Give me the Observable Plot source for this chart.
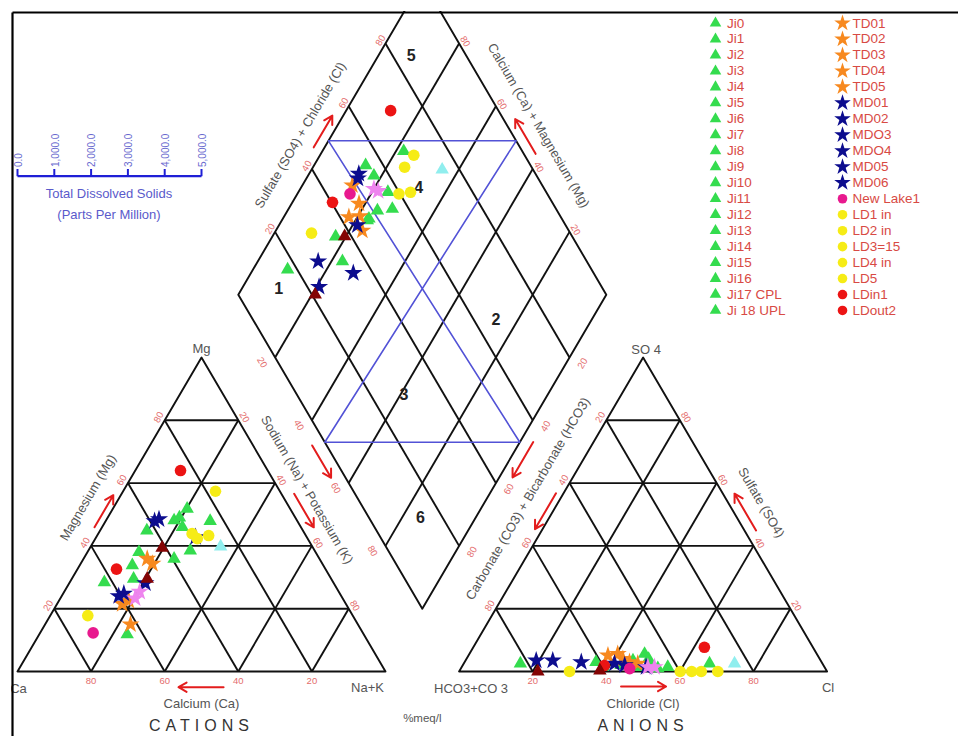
<!DOCTYPE html>
<html>
<head>
<meta charset="utf-8">
<script src="https://cdn.jsdelivr.net/npm/d3@7"></script>
<script src="https://cdn.jsdelivr.net/npm/@observablehq/plot@0.6"></script>
<style>
html,body{margin:0;padding:0;background:#fff;}
#chart svg{display:block;}
</style>
</head>
<body>
<div id="chart"></div>
<script>
// ================= DATA =================
// legend categories
const legendJi = ["Ji0","Ji1","Ji2","Ji3","Ji4","Ji5","Ji6","Ji7","Ji8","Ji9","Ji10","Ji11","Ji12","Ji13","Ji14","Ji15","Ji16","Ji17 CPL","Ji 18 UPL"];
const legendTD = ["TD01","TD02","TD03","TD04","TD05"];
const legendMD = ["MD01","MD02","MDO3","MDO4","MD05","MD06"];
const legendNewLake = ["New Lake1"];
const legendLD = ["LD1 in","LD2 in","LD3=15","LD4 in","LD5"];
const legendLDin = ["LDin1","LDout2"];

// tick labels
const gridTicks = [20,40,60,80];
const tdsTicks = [0,1000,2000,3000,4000,5000];
const tdsLabels = ["0.0","1,000.0","2,000.0","3,000.0","4,000.0","5,000.0"];

// diamond zone labels (Na+K %, SO4+Cl %)
const zoneLabels = ["1","2","3","4","5","6"];
const zoneNaK = [10,74,61,32,9,85];
const zoneSCl = [12,66,29,66,85,14];
// blue facies outline (Na+K %, SO4+Cl %)
const faciesNaK = [0,51,47,100,0];
const faciesSCl = [49,100,0,53,49];

// cation triangle: [Mg %, Na+K %]
const cationJi = [[51.8,20.2],[48.1,18.5],[49.0,19.5],[46.0,21.8],[47.9,28.4],[44.9,12.7],[38.5,27.7],[35.9,24.6],[38.0,14.0],[33.8,14.3],[29.5,16.8],[28.4,9.4],[11.8,23.9]];
const cationTD = [[35.9,17.3],[34.3,19.5],[21.5,17.7],[15.0,23.2],[22.5,19.0]];
const cationMD = [[47.9,13.3],[48.5,14.2],[24.0,15.5],[28.1,20.7],[42.8,27.0],[24.8,16.5]];
const cationNewLake = [[12.3,14.4]];
const cationLD = [[57.4,25.1],[17.8,10.2],[43.9,25.5],[42.3,27.7],[43.3,30.3]];
const cationLDin = [[64.0,12.3],[32.6,10.6]];
const cationViolet = [[23.3,20.3],[25.4,20.5]];
const cationMaroon = [[39.4,19.6],[29.5,20.5]];
const cationCyan = [[39.8,35.3]];

// anion triangle: [SO4 %, Cl %]
const anionJi = [[2.5,15.4],[5.6,47.6],[3.0,35.7],[1.4,56.0],[2.5,66.8],[1.4,48.0],[2.0,43.0],[2.0,51.0],[3.5,45.5],[1.5,38.5],[4.0,49.5],[1.0,53.5]];
const anionTD = [[5.1,37.9],[3.0,44.8],[2.5,47.3],[5.6,40.3],[4.0,42.5]];
const anionMD = [[3.5,19.2],[3.5,23.7],[3.0,31.7],[2.5,41.0],[1.4,50.1],[2.0,44.0]];
const anionNewLake = [[0.9,45.9]];
const anionLD = [[0,30.0],[0,60.1],[0,63.2],[0,65.8],[0,70.3]];
const anionLDin = [[7.7,62.8],[1.9,38.5]];
const anionViolet = [[1.4,52.4],[1.4,50.6]];
const anionMaroon = [[0,21.4],[0.3,38.1]];
const anionCyan = [[2.5,73.6]];

// diamond: [Na+K %, SO4+Cl %]
const diamondJi = [[22.1,67.8],[14.0,55.2],[17.9,55.8],[24.3,57.0],[24.4,51.2],[28.2,55.5],[23.4,47.6],[23.2,46.9],[17.2,35.7],[23.0,33.6],[9.4,17.4]];
const diamondTD = [[13.6,48.4],[18.3,47.3],[17.7,42.4],[23.5,43.9],[20.5,45.5]];
const diamondMD = [[13.5,52.0],[21.3,43.4],[16.4,27.0],[27.8,34.7],[20.7,23.2],[14.0,51.0]];
const diamondNewLake = [[14.3,46.4]];
const diamondLD = [[25.5,69.9],[24.9,65.5],[27.6,59.7],[30.5,63.1],[10.1,29.7]];
const diamondLDin = [[12.1,70.7],[10.9,40.3]];
const diamondViolet = [[20.0,53.7],[21.5,54.5]];
const diamondMaroon = [[19.6,38.2],[20.9,20.9]];
const diamondCyan = [[35.5,75.3]];

// ================= GEOMETRY =================
const KX = 3.68, KY = 3.626, OX = 17, OY = 671; // px per unit, origin
const toX = px => (px - OX) / KX, toY = py => (OY - py) / KY;
const H = 50 * Math.sqrt(3);
const V = {
  Ca:{x:0,y:0}, NaK:{x:100,y:0}, Mg:{x:50,y:H},
  HCO3:{x:120,y:0}, Cl:{x:220,y:0}, SO4:{x:170,y:H},
  B:{x:110,y:0.2*H}, L:{x:60,y:1.2*H}, R:{x:160,y:1.2*H}, T:{x:110,y:2.2*H}
};
const cat = ([mg,nak]) => ({x: nak + mg/2, y: mg/100*H});
const ani = ([so4,cl]) => ({x: 120 + cl + so4/2, y: so4/100*H});
const dia = ([nak,sc]) => ({x: 110 - 50*(1-nak/100) + 50*sc/100, y: 0.2*H + H*(1-nak/100) + H*sc/100});

const edges = {
  catBottom:[V.NaK,V.Ca], catLeft:[V.Ca,V.Mg], catRight:[V.Mg,V.NaK],
  aniBottom:[V.Cl,V.HCO3], aniLeft:[V.HCO3,V.SO4], aniRight:[V.SO4,V.Cl],
  diaUL:[V.L,V.T], diaUR:[V.T,V.R], diaLL:[V.B,V.L], diaLR:[V.R,V.B]
};
const shift = (p,dx,dy) => ({x:p.x + dx/KX, y:p.y - dy/KY});
const onEdge = (e,t) => ({x:e[0].x + t*(e[1].x-e[0].x), y:e[0].y + t*(e[1].y-e[0].y)});
function normal(e){const sx=(e[1].x-e[0].x)*KX, sy=-(e[1].y-e[0].y)*KY, l=Math.hypot(sx,sy); return [sy/l, -sx/l];}
function outside(e,t,off){const p=onEdge(e,t), n=normal(e); return shift(p, n[0]*off, n[1]*off);}

// grid segments
const segs = [];
for (const k of gridTicks) {
  segs.push([cat([k,0]), cat([k,100-k])]);
  segs.push([cat([0,k]), cat([100-k,k])]);
  segs.push([cat([0,100-k]), cat([100-k,0])]);
  segs.push([ani([k,0]), ani([k,100-k])]);
  segs.push([ani([0,k]), ani([100-k,k])]);
  segs.push([ani([0,100-k]), ani([100-k,0])]);
  segs.push([dia([k,0]), dia([k,100])]);
  segs.push([dia([0,k]), dia([100,k])]);
}
const linkData = segs.map(([a,b]) => ({x1:a.x,y1:a.y,x2:b.x,y2:b.y}));
const outlines = [
  ...[V.Ca,V.NaK,V.Mg].map(p=>({...p,id:"c"})),
  ...[V.HCO3,V.Cl,V.SO4].map(p=>({...p,id:"a"})),
  ...[V.L,V.B,V.R,V.T].map(p=>({...p,id:"d"}))
];
const facies = faciesNaK.map((n,i) => dia([n, faciesSCl[i]]));

// tick labels
const tickSpecs = [
  {edge:"catBottom",rev:false,dx:0,dy:9,rot:0},
  {edge:"catLeft",rev:false,dx:-6,dy:-3,rot:-60},
  {edge:"catRight",rev:false,dx:6,dy:-3,rot:60},
  {edge:"aniBottom",rev:true,dx:0,dy:9,rot:0},
  {edge:"aniLeft",rev:true,dx:-6,dy:-3,rot:-60},
  {edge:"aniRight",rev:true,dx:6,dy:-3,rot:60},
  {edge:"diaUL",rev:false,dx:-5,dy:-3,rot:-60},
  {edge:"diaUR",rev:true,dx:6,dy:-2,rot:60},
  {edge:"diaLL",rev:true,dx:-13,dy:5,rot:60},
  {edge:"diaLR",rev:false,dx:13,dy:6,rot:-60}
];
const tickMarks = tickSpecs.map(s => {
  const data = gridTicks.map(k => {
    const t = s.rev ? 1 - k/100 : k/100;
    const p = shift(onEdge(edges[s.edge], t), s.dx, s.dy);
    return {...p, t: String(k)};
  });
  return Plot.text(data, {x:"x", y:"y", text:"t", rotate:s.rot*0.993, fill:"#e46c6c", fontSize:9.5});
});

// axis titles
const titleSpecs = [
  {text:"Magnesium (Mg)", edge:"catLeft", t:0.51, off:27, rot:-59.6},
  {text:"Sodium (Na) + Potassium (K)", edge:"catRight", t:0.46, off:24, rot:59.6},
  {text:"Calcium (Ca)", edge:"catBottom", t:0.5, off:32, rot:0},
  {text:"Carbonate (CO3) + Bicarbonate (HCO3)", edge:"aniLeft", t:0.505, off:28, rot:-59.6},
  {text:"Sulfate (SO4)", edge:"aniRight", t:0.508, off:28.5, rot:59.6},
  {text:"Chloride (Cl)", edge:"aniBottom", t:0.5, off:32, rot:0},
  {text:"Sulfate (SO4) + Chloride (Cl)", edge:"diaUL", t:0.464, off:27, rot:-59.6},
  {text:"Calcium (Ca) + Magnesium (Mg)", edge:"diaUR", t:0.505, off:27, rot:59.6}
];
const titleMarks = titleSpecs.map(s => {
  const p = outside(edges[s.edge], s.t, s.off);
  return Plot.text([{...p, t:s.text}], {x:"x", y:"y", text:"t", rotate:s.rot, fill:"#555", fontSize:13});
});
const bigTitles = [
  {...outside(edges.catBottom,0.5,54), t:"CATIONS"},
  {...outside(edges.aniBottom,0.5,54), t:"ANIONS"}
];

// red arrows
const arrowSpecs = [
  {edge:"catBottom",t0:0.44,t1:0.5625,off:15.7},
  {edge:"catLeft",t0:0.449,t1:0.551,off:6.5},
  {edge:"catRight",t0:0.452,t1:0.5585,off:11},
  {edge:"diaLL",t0:0.54,t1:0.437,off:12.5},
  {edge:"aniBottom",t0:0.56,t1:0.4375,off:15},
  {edge:"aniLeft",t0:0.557,t1:0.443,off:6.5},
  {edge:"diaLR",t0:0.451,t1:0.5635,off:11.5},
  {edge:"aniRight",t0:0.567,t1:0.45,off:10},
  {edge:"diaUL",t0:0.454,t1:0.555,off:9.4},
  {edge:"diaUR",t0:0.568,t1:0.457,off:10.2}
];
const arrowData = arrowSpecs.map(s => {
  const a = outside(edges[s.edge], s.t0, s.off), b = outside(edges[s.edge], s.t1, s.off);
  return {x1:a.x,y1:a.y,x2:b.x,y2:b.y};
});

// corner labels
const cornerData = [
  {...shift(V.Mg,0,-9), t:"Mg", a:"middle"},
  {...shift(V.Ca,1,17), t:"Ca", a:"middle"},
  {...shift(V.NaK,-18,16), t:"Na+K", a:"middle"},
  {...shift(V.Cl,1,16), t:"Cl", a:"middle"},
  {...shift(V.SO4,3,-8), t:"SO 4", a:"middle"}
];
const cornerEnd = [{...shift(V.HCO3,49,17), t:"HCO3+CO 3"}];

// series
const series = [
  {symbol:"triangle", fill:"#34dc4e", r:5,   lr:4.3, c:cationJi, a:anionJi, d:diamondJi, legend:legendJi, col:0, row0:0},
  {symbol:"star",     fill:"#f7891f", r:5.7, lr:5.2, c:cationTD, a:anionTD, d:diamondTD, legend:legendTD, col:1, row0:0},
  {symbol:"star",     fill:"#0c0c8e", r:5.7, lr:5.2, c:cationMD, a:anionMD, d:diamondMD, legend:legendMD, col:1, row0:5},
  {symbol:"circle",   fill:"#e8198e", r:5.8, lr:4.8, c:cationNewLake, a:anionNewLake, d:diamondNewLake, legend:legendNewLake, col:1, row0:11},
  {symbol:"circle",   fill:"#f6ec16", r:5.8, lr:4.8, c:cationLD, a:anionLD, d:diamondLD, legend:legendLD, col:1, row0:12},
  {symbol:"circle",   fill:"#ec1414", r:5.8, lr:4.8, c:cationLDin, a:anionLDin, d:diamondLDin, legend:legendLDin, col:1, row0:17},
  {symbol:"star",     fill:"#ee84ee", r:5.7, lr:5.2, c:cationViolet, a:anionViolet, d:diamondViolet, legend:[], col:1, row0:0},
  {symbol:"triangle", fill:"#840404", r:5,   lr:4.3, c:cationMaroon, a:anionMaroon, d:diamondMaroon, legend:[], col:1, row0:0},
  {symbol:"triangle", fill:"#90eeee", r:5,   lr:4.3, c:cationCyan, a:anionCyan, d:diamondCyan, legend:[], col:1, row0:0}
];
const pointMarks = series.map(s => {
  const pts = [...s.c.map(cat), ...s.a.map(ani), ...s.d.map(dia)];
  return Plot.dot(pts, {x:"x", y:"y", symbol:s.symbol, fill:s.fill, r:s.r});
});

// legend
const legSymX = [toX(715), toX(842)], legTxtX = [toX(726.5), toX(852)];
const rowY = i => toY(22.7 + i*15.96);
const legendMarks = [];
for (const s of series) {
  if (!s.legend.length) continue;
  const rows = s.legend.map((t,i) => ({t, x:legSymX[s.col], tx:legTxtX[s.col], y:rowY(s.row0+i)}));
  legendMarks.push(Plot.dot(rows, {x:"x", y:"y", symbol:s.symbol, fill:s.fill, r:s.lr}));
  legendMarks.push(Plot.text(rows, {x:"tx", y:"y", text:"t", textAnchor:"start", fill:"#d84a44", fontSize:13.5}));
}

// TDS scale
const tdsX = v => v/100;
const tdsY = toY(175.7), tdsTop = toY(168.5), tdsLab = toY(166.5);
const tdsData = tdsTicks.map((v,i) => ({x:tdsX(v), lab:tdsLabels[i]}));

// masks and frame
const W = 958, HT = 736;
const maskData = [
  {x1:toX(0), x2:toX(W), y1:toY(11), y2:toY(0)},
  {x1:toX(0), x2:toX(11), y1:toY(HT), y2:toY(0)}
];
const frameData = [
  {x1:toX(12), y1:toY(12), x2:toX(W), y2:toY(12)},
  {x1:toX(12), y1:toY(12), x2:toX(12), y2:toY(HT)}
];

const zoneData = zoneLabels.map((t,i) => ({...dia([zoneNaK[i], zoneSCl[i]]), t}));

const plot = Plot.plot({
  width: W, height: HT,
  marginTop:0, marginRight:0, marginBottom:0, marginLeft:0,
  style: {fontFamily:"Liberation Sans, Arial, sans-serif", background:"#fff"},
  x: {domain:[toX(0), toX(W)], range:[0, W], axis:null},
  y: {domain:[toY(HT), toY(0)], range:[HT, 0], axis:null},
  marks: [
    Plot.link(linkData, {x1:"x1", y1:"y1", x2:"x2", y2:"y2", stroke:"#111", strokeWidth:1.9}),
    Plot.line(outlines, {x:"x", y:"y", z:"id", curve:"linear-closed", stroke:"#111", strokeWidth:1.9}),
    Plot.line(facies, {x:"x", y:"y", stroke:"#5252d6", strokeWidth:1.6}),
    Plot.text(zoneData, {x:"x", y:"y", text:"t", fontWeight:"bold", fontSize:16, fill:"#222"}),
    ...pointMarks,
    ...tickMarks,
    ...titleMarks,
    Plot.text(bigTitles, {x:"x", y:"y", text:"t", fontSize:16, fill:"#333"}),
    Plot.text([{...shift({x:110,y:0},0,47), t:"%meq/l"}], {x:"x", y:"y", text:"t", fontSize:11.5, fill:"#555"}),
    Plot.text(cornerData, {x:"x", y:"y", text:"t", fontSize:13, fill:"#555"}),
    Plot.text(cornerEnd, {x:"x", y:"y", text:"t", fontSize:13, fill:"#555", textAnchor:"end"}),
    Plot.arrow(arrowData, {x1:"x1", y1:"y1", x2:"x2", y2:"y2", stroke:"#e31c1c", strokeWidth:2, headLength:7}),
    // TDS scale
    Plot.link([{x1:tdsX(0), x2:tdsX(5000)}], {x1:"x1", x2:"x2", y1:()=>tdsY, y2:()=>tdsY, stroke:"#1f1fd6", strokeWidth:2.2}),
    Plot.link(tdsData, {x1:"x", x2:"x", y1:()=>tdsY, y2:()=>tdsTop, stroke:"#1f1fd6", strokeWidth:2}),
    Plot.text(tdsData, {x:d=>d.x + 1/KX, y:()=>tdsLab, text:"lab", rotate:-90, textAnchor:"start", fontSize:10, fill:"#6a6acf"}),
    Plot.text([{t:"Total Dissolved Solids", y:toY(193.3)}, {t:"(Parts Per Million)", y:toY(214.5)}],
      {x:()=>toX(108.5), y:"y", text:"t", fontSize:13, fill:"#5a5acb"}),
    // masks + frame
    Plot.rect(maskData, {x1:"x1", x2:"x2", y1:"y1", y2:"y2", fill:"#fff"}),
    Plot.link(frameData, {x1:"x1", y1:"y1", x2:"x2", y2:"y2", stroke:"#000", strokeWidth:2.2}),
    ...legendMarks
  ]
});
d3.select(plot).selectAll("text").each(function(){
  if (this.textContent === "CATIONS" || this.textContent === "ANIONS") this.setAttribute("letter-spacing","5px");
});
document.getElementById("chart").appendChild(plot);
</script>
</body>
</html>
